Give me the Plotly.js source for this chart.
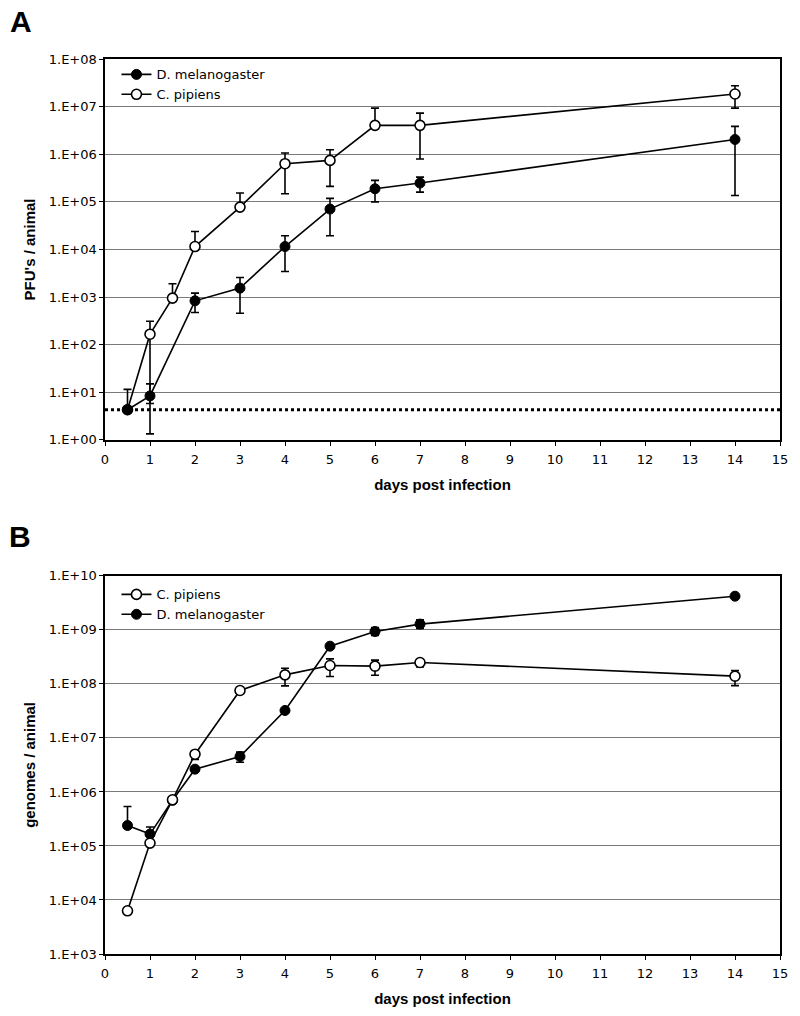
<!DOCTYPE html>
<html>
<head>
<meta charset="utf-8">
<script src="https://cdn.plot.ly/plotly-3.0.1.min.js"></script>
<style>html,body{margin:0;padding:0;background:#fff;}#chart{width:800px;height:1016px;}</style>
</head>
<body>
<div id="chart"></div>
<script>
// ---------- Panel A: PFU's / animal ----------
const daysA_mel = [0.5, 1, 2, 3, 4, 5, 6, 7, 14];
const pfu_mel = [4.3, 8.4, 834, 1540, 11500, 70500, 188000, 248000, 2040000];
const pfu_mel_hi = [4.3, 15, 1210, 2570, 19400, 118000, 282000, 331000, 3850000];
const pfu_mel_lo = [4.3, 1.34, 474, 457, 3450, 19400, 100000, 160000, 136000];

const daysA_pip = [0.5, 1, 1.5, 2, 3, 4, 5, 6, 7, 14];
const pfu_pip = [4.3, 166, 949, 11500, 77500, 632000, 742000, 4040000, 4040000, 18400000];
const pfu_pip_hi = [11.5, 310, 1900, 23900, 153000, 1060000, 1240000, 9300000, 7300000, 27500000];
const pfu_pip_lo = [4.3, 5.8, 949, 11500, 77500, 148000, 211000, 4040000, 794000, 9300000];

const detectionX = [0, 15];
const detectionLimit = [4.3, 4.3];

// ---------- Panel B: genomes / animal ----------
const daysB_pip = [0.5, 1, 1.5, 2, 3, 4, 5, 6, 7, 14];
const gen_pip = [6300, 113000, 715000, 5000000, 75500000, 147000000, 219000000, 213000000, 249000000, 139000000];
const gen_pip_hi = [6300, 113000, 715000, 5000000, 75500000, 195000000, 290000000, 276000000, 262000000, 177000000];
const gen_pip_lo = [6300, 113000, 715000, 4000000, 75500000, 92000000, 137000000, 145000000, 205000000, 93000000];

const daysB_mel = [0.5, 1, 1.5, 2, 3, 4, 5, 6, 7, 14];
const gen_mel = [239000, 166000, 700000, 2640000, 4530000, 32200000, 499000000, 933000000, 1280000000, 4200000000];
const gen_mel_hi = [538000, 224000, 700000, 2640000, 5460000, 32200000, 499000000, 1100000000, 1530000000, 4200000000];
const gen_mel_lo = [239000, 166000, 700000, 2640000, 3550000, 32200000, 499000000, 790000000, 1060000000, 4200000000];

// ---------- tick labels ----------
const xTicks = [0,1,2,3,4,5,6,7,8,9,10,11,12,13,14,15];
const yTicksA = [1, 10, 100, 1e3, 1e4, 1e5, 1e6, 1e7, 1e8];
const yTickTextA = ["1.E+00","1.E+01","1.E+02","1.E+03","1.E+04","1.E+05","1.E+06","1.E+07","1.E+08"];
const yTicksB = [1e3, 1e4, 1e5, 1e6, 1e7, 1e8, 1e9, 1e10];
const yTickTextB = ["1.E+03","1.E+04","1.E+05","1.E+06","1.E+07","1.E+08","1.E+09","1.E+10"];

function plus(v, hi) { return v.map((d, i) => Math.max(hi[i] - d, 0)); }
function minus(v, lo) { return v.map((d, i) => Math.max(d - lo[i], 0)); }

const errStyle = {color: '#000', thickness: 1.6, width: 4};
function errY(v, hi, lo) {
  return Object.assign({type: 'data', symmetric: false, array: plus(v, hi), arrayminus: minus(v, lo)}, errStyle);
}
const filledMarker = {symbol: 'circle', size: 10, color: '#000', line: {color: '#000', width: 1}};
const openMarker = {symbol: 'circle', size: 10, color: '#fff', line: {color: '#000', width: 1.6}};
const lineStyle = {color: '#000', width: 1.6};

const traces = [
  {x: detectionX, y: detectionLimit, mode: 'lines', xaxis: 'x', yaxis: 'y', showlegend: false,
   line: {color: '#000', width: 3, dash: '3px,3px'}, hoverinfo: 'skip'},
  {x: daysA_pip, y: pfu_pip, name: 'C. pipiens', mode: 'lines+markers', xaxis: 'x', yaxis: 'y',
   legend: 'legend', legendrank: 2, line: lineStyle, marker: openMarker, error_y: errY(pfu_pip, pfu_pip_hi, pfu_pip_lo)},
  {x: daysA_mel, y: pfu_mel, name: 'D. melanogaster', mode: 'lines+markers', xaxis: 'x', yaxis: 'y',
   legend: 'legend', legendrank: 1, line: lineStyle, marker: filledMarker, error_y: errY(pfu_mel, pfu_mel_hi, pfu_mel_lo)},
  {x: daysB_mel, y: gen_mel, name: 'D. melanogaster', mode: 'lines+markers', xaxis: 'x2', yaxis: 'y2',
   legend: 'legend2', legendrank: 2, line: lineStyle, marker: filledMarker, error_y: errY(gen_mel, gen_mel_hi, gen_mel_lo)},
  {x: daysB_pip, y: gen_pip, name: 'C. pipiens', mode: 'lines+markers', xaxis: 'x2', yaxis: 'y2',
   legend: 'legend2', legendrank: 1, line: lineStyle, marker: openMarker, error_y: errY(gen_pip, gen_pip_hi, gen_pip_lo)}
];

const tickFont = {family: 'DejaVu Sans, Verdana, sans-serif', size: 13, color: '#000'};
const titleFont = {family: 'Liberation Sans, Arial, sans-serif', size: 15, color: '#000', weight: 'bold'};

function xAxis(anchor) {
  return {
    anchor: anchor, domain: [0, 1], range: [0, 15], tickvals: xTicks, ticktext: xTicks.map(String),
    ticks: 'outside', ticklen: 4, tickwidth: 1, tickcolor: '#000', showgrid: false, zeroline: false,
    showline: true, linecolor: '#000', linewidth: 1.6, mirror: true, tickfont: tickFont,
    ticklabelstandoff: 3, automargin: false,
    title: {text: '<b>days post infection</b>', font: titleFont, standoff: 13}
  };
}
function yAxis(anchor, domain, range, vals, text, title) {
  return {
    anchor: anchor, domain: domain, type: 'log', range: range, tickvals: vals, ticktext: text,
    ticks: 'outside', ticklen: 4, tickwidth: 1, tickcolor: '#000',
    showgrid: true, gridcolor: '#7a7a7a', gridwidth: 1, zeroline: false,
    showline: true, linecolor: '#000', linewidth: 1.6, mirror: true, tickfont: tickFont,
    automargin: false,
    title: {text: '<b>' + title + '</b>', font: titleFont, standoff: 9}
  };
}

const layout = {
  width: 800, height: 1016,
  margin: {l: 105.3, r: 20.4, t: 59.3, b: 61.7},
  paper_bgcolor: '#fff', plot_bgcolor: '#fff',
  font: tickFont,
  xaxis: xAxis('y'),
  yaxis: yAxis('x', [0.5744, 1], [0, 8], yTicksA, yTickTextA, "PFU's / animal"),
  xaxis2: xAxis('y2'),
  yaxis2: yAxis('x2', [0, 0.4225], [3, 10], yTicksB, yTickTextB, 'genomes / animal'),
  legend: {x: 0.017, y: 0.9995, xanchor: 'left', yanchor: 'top', bgcolor: 'rgba(0,0,0,0)',
           font: {family: 'DejaVu Sans, Verdana, sans-serif', size: 13, color: '#000'}, tracegroupgap: 0},
  legend2: {x: 0.017, y: 0.4225 - 0.004, xanchor: 'left', yanchor: 'top', bgcolor: 'rgba(0,0,0,0)',
           font: {family: 'DejaVu Sans, Verdana, sans-serif', size: 13, color: '#000'}, tracegroupgap: 0},
  annotations: [
    {text: '<b>A</b>', xref: 'paper', yref: 'paper', x: -0.125, y: 1.0424, xanchor: 'center', yanchor: 'middle',
     showarrow: false, font: {family: 'Liberation Sans, Arial, sans-serif', size: 30, color: '#000'}},
    {text: '<b>B</b>', xref: 'paper', yref: 'paper', x: -0.126, y: 0.4666, xanchor: 'center', yanchor: 'middle',
     showarrow: false, font: {family: 'Liberation Sans, Arial, sans-serif', size: 30, color: '#000'}}
  ]
};

Plotly.newPlot('chart', traces, layout, {displayModeBar: false, staticPlot: true});
</script>
</body>
</html>
